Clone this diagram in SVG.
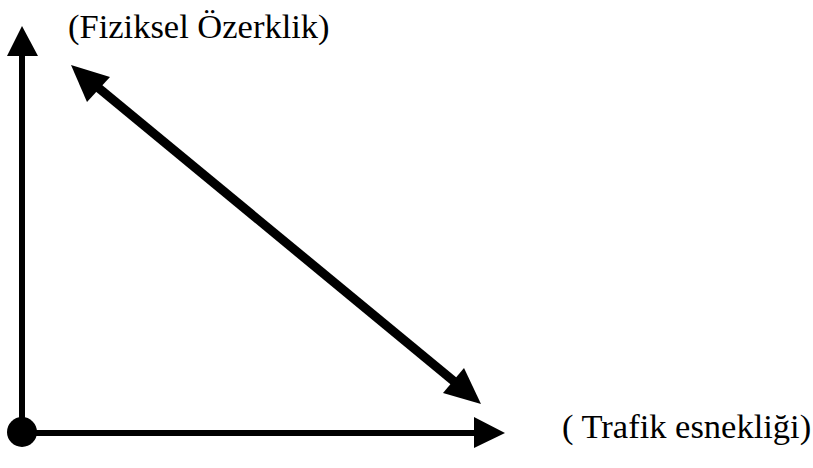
<svg xmlns="http://www.w3.org/2000/svg" width="813" height="468" viewBox="0 0 813 468">
<style>
.lbl{font-family:"Liberation Serif","Times New Roman",serif;font-size:34.5px;fill:#000}
.ax{stroke:#000;stroke-width:6;fill:none}
.dg{stroke:#000;stroke-width:9;fill:none}
.hd{fill:#000}
</style>
<rect width="813" height="468" fill="#fff"/>
<g id="connectors">
<line class="ax" x1="22" y1="432" x2="22" y2="52"/>
<polygon class="hd" points="22,26 38,56 7,56"/>
<line class="ax" x1="22" y1="433" x2="478" y2="433"/>
<polygon class="hd" points="505,433 474,417 474,448"/>
<line class="dg" x1="95" y1="85" x2="456" y2="383"/>
<polygon class="hd" points="71,65 110,77 87,102"/>
<polygon class="hd" points="481,404 443,393 464,368"/>
</g>
<g id="origin"><circle cx="22" cy="432" r="15" fill="#000"/></g>
<g id="label-y"><text class="lbl" x="68" y="38">(Fiziksel Özerklik)</text></g>
<g id="label-x"><text class="lbl" x="562" y="438">( Trafik esnekliği)</text></g>
</svg>
